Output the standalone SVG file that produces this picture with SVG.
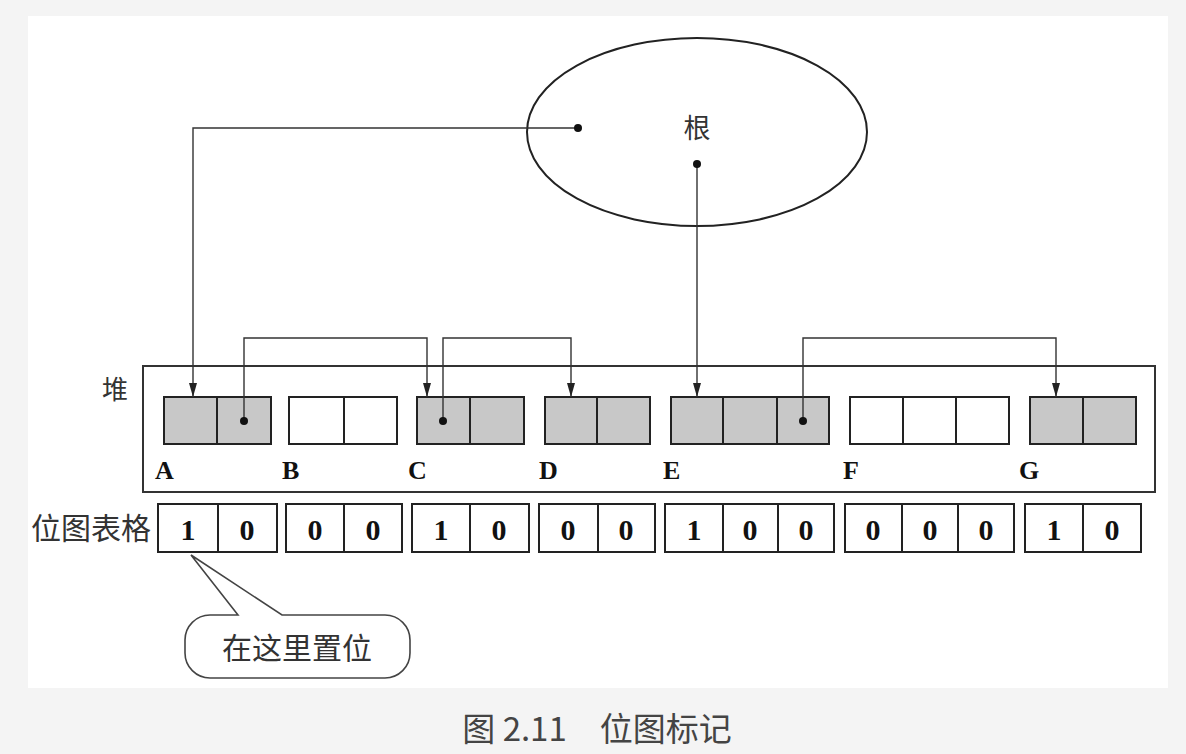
<svg xmlns="http://www.w3.org/2000/svg" width="1186" height="754" viewBox="0 0 1186 754">
<style>
.cell{fill:#c8c8c8;stroke:#222;stroke-width:2}
.ecell{fill:#fff;stroke:#222;stroke-width:2}
.bit{fill:#fff;stroke:#222;stroke-width:2}
.conn{fill:none;stroke:#333;stroke-width:1.4}
.dot{fill:#111}
.lbl{font-family:"Liberation Serif",serif;font-weight:bold;font-size:26px;fill:#111}
.dig{font-family:"Liberation Serif",serif;font-weight:bold;font-size:30px;fill:#111;text-anchor:middle}
.cjk{font-family:"Noto Sans CJK SC",sans-serif;fill:#333}
</style>
<defs>
<marker id="ah" viewBox="0 0 14 8" refX="14" refY="4" markerWidth="14" markerHeight="8" orient="auto" markerUnits="userSpaceOnUse">
<path d="M0,0 L14,4 L0,8 z" fill="#222"/>
</marker>
</defs>
<rect x="0" y="0" width="1186" height="754" fill="#f4f4f4"/>
<rect x="28" y="16" width="1140" height="672" fill="#fff"/>

<g id="root">
<ellipse cx="697" cy="132" rx="170" ry="94" fill="#fff" stroke="#222" stroke-width="2"/>
<text class="cjk" x="697" y="138" font-size="27" text-anchor="middle">根</text>
</g>

<g id="heap">
<rect x="143" y="366" width="1012" height="126" fill="#fff" stroke="#333" stroke-width="2"/>
<text class="cjk" x="115" y="399" font-size="26" text-anchor="middle">堆</text>
</g>

<g id="objA">
<rect class="cell" x="164" y="397" width="53" height="47"/>
<rect class="cell" x="217" y="397" width="54" height="47"/>
<text class="lbl" x="155" y="479">A</text>
</g>
<g id="objB">
<rect class="ecell" x="289" y="397" width="55" height="47"/>
<rect class="ecell" x="344" y="397" width="53" height="47"/>
<text class="lbl" x="282" y="479">B</text>
</g>
<g id="objC">
<rect class="cell" x="417" y="397" width="53" height="47"/>
<rect class="cell" x="470" y="397" width="54" height="47"/>
<text class="lbl" x="408" y="479">C</text>
</g>
<g id="objD">
<rect class="cell" x="545" y="397" width="52" height="47"/>
<rect class="cell" x="597" y="397" width="53" height="47"/>
<text class="lbl" x="539" y="479">D</text>
</g>
<g id="objE">
<rect class="cell" x="671" y="397" width="52" height="47"/>
<rect class="cell" x="723" y="397" width="54" height="47"/>
<rect class="cell" x="777" y="397" width="52" height="47"/>
<text class="lbl" x="663" y="479">E</text>
</g>
<g id="objF">
<rect class="ecell" x="850" y="397" width="53" height="47"/>
<rect class="ecell" x="903" y="397" width="53" height="47"/>
<rect class="ecell" x="956" y="397" width="53" height="47"/>
<text class="lbl" x="843" y="479">F</text>
</g>
<g id="objG">
<rect class="cell" x="1030" y="397" width="53" height="47"/>
<rect class="cell" x="1083" y="397" width="53" height="47"/>
<text class="lbl" x="1019" y="479">G</text>
</g>

<g id="bitmap">
<text class="cjk" x="31" y="539" font-size="30">位图表格</text>
<rect class="bit" x="158" y="504" width="60" height="48"/><rect class="bit" x="218" y="504" width="59" height="48"/>
<text class="dig" x="188" y="540">1</text><text class="dig" x="247" y="540">0</text>
<rect class="bit" x="286" y="504" width="58" height="48"/><rect class="bit" x="344" y="504" width="58" height="48"/>
<text class="dig" x="315" y="540">0</text><text class="dig" x="373" y="540">0</text>
<rect class="bit" x="412" y="504" width="58" height="48"/><rect class="bit" x="470" y="504" width="59" height="48"/>
<text class="dig" x="441" y="540">1</text><text class="dig" x="499" y="540">0</text>
<rect class="bit" x="539" y="504" width="59" height="48"/><rect class="bit" x="598" y="504" width="57" height="48"/>
<text class="dig" x="568" y="540">0</text><text class="dig" x="626" y="540">0</text>
<rect class="bit" x="665" y="504" width="58" height="48"/><rect class="bit" x="723" y="504" width="55" height="48"/><rect class="bit" x="778" y="504" width="56" height="48"/>
<text class="dig" x="694" y="540">1</text><text class="dig" x="750" y="540">0</text><text class="dig" x="806" y="540">0</text>
<rect class="bit" x="845" y="504" width="57" height="48"/><rect class="bit" x="902" y="504" width="56" height="48"/><rect class="bit" x="958" y="504" width="56" height="48"/>
<text class="dig" x="873" y="540">0</text><text class="dig" x="930" y="540">0</text><text class="dig" x="986" y="540">0</text>
<rect class="bit" x="1025" y="504" width="58" height="48"/><rect class="bit" x="1083" y="504" width="58" height="48"/>
<text class="dig" x="1054" y="540">1</text><text class="dig" x="1112" y="540">0</text>
</g>

<g id="callout">
<path d="M238,615 L191,555 L282,615 H385 A25,25 0 0 1 410,640 V653 A25,25 0 0 1 385,678 H210 A25,25 0 0 1 185,653 V640 A25,25 0 0 1 210,615 Z" fill="#fff" stroke="#444" stroke-width="1.6"/>
<text class="cjk" x="297" y="659" font-size="30" text-anchor="middle">在这里置位</text>
</g>

<g id="connectors">
<polyline class="conn" points="578,128 193,128 193,397" marker-end="url(#ah)"/>
<polyline class="conn" points="697,164 697,397" marker-end="url(#ah)"/>
<polyline class="conn" points="244,421 244,338 427,338 427,397" marker-end="url(#ah)"/>
<polyline class="conn" points="443,421 443,338 571,338 571,397" marker-end="url(#ah)"/>
<polyline class="conn" points="803,421 803,338 1056,338 1056,397" marker-end="url(#ah)"/>
<circle class="dot" cx="578" cy="128" r="4"/>
<circle class="dot" cx="697" cy="164" r="4"/>
<circle class="dot" cx="244" cy="421" r="4"/>
<circle class="dot" cx="443" cy="421" r="4"/>
<circle class="dot" cx="803" cy="421" r="4"/>
</g>

<text x="597" y="741" font-family="Noto Sans CJK SC, sans-serif" font-size="33" fill="#444" text-anchor="middle">图 2.11　位图标记</text>
</svg>
